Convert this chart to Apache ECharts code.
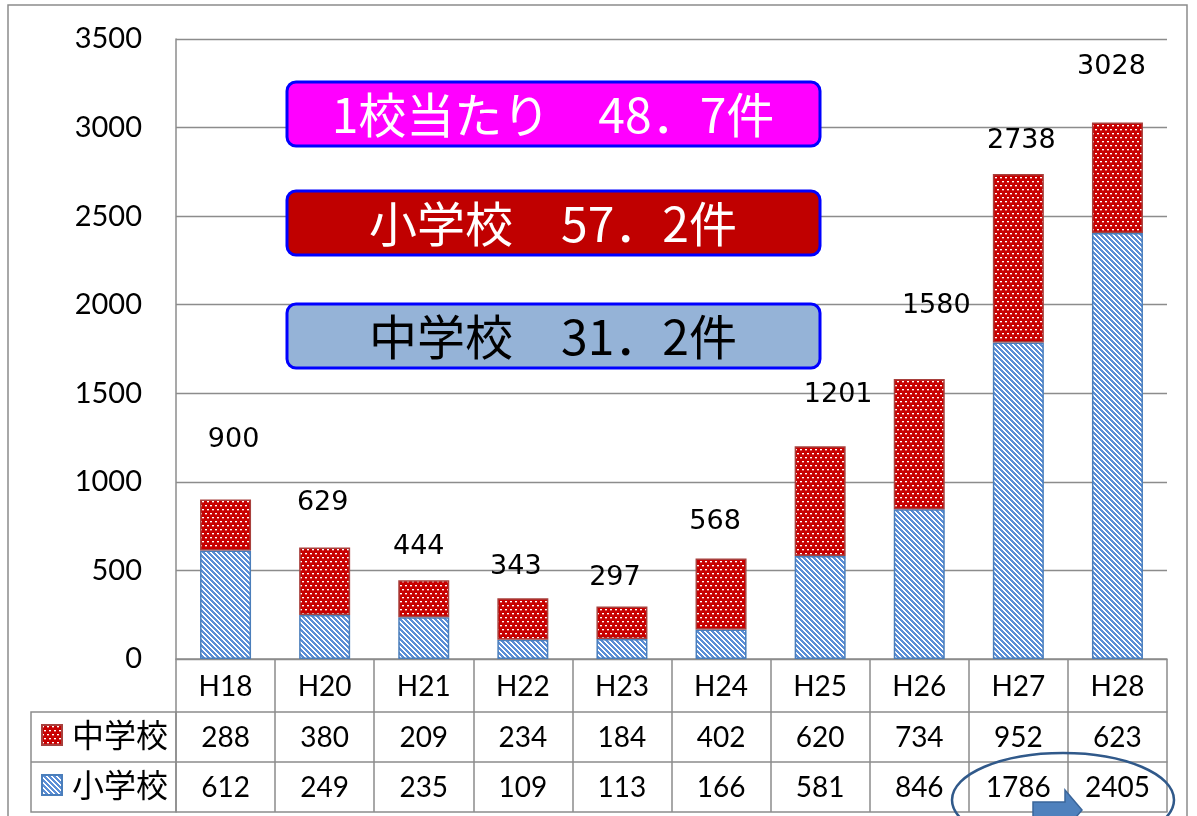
<!DOCTYPE html>
<html>
<head>
<meta charset="utf-8">
<script src="https://cdn.jsdelivr.net/npm/echarts@6/dist/echarts.min.js"></script>
<style>
html,body{margin:0;padding:0;background:#fff;}
#main{width:1197px;height:816px;}
</style>
</head>
<body>
<div id="main"></div>
<script>
// ---- data ----
const categories = ['H18','H20','H21','H22','H23','H24','H25','H26','H27','H28'];
const juniorHigh = [288, 380, 209, 234, 184, 402, 620, 734, 952, 623];   // 中学校
const elementary = [612, 249, 235, 109, 113, 166, 581, 846, 1786, 2405]; // 小学校
const totals = [900, 629, 444, 343, 297, 568, 1201, 1580, 2738, 3028];
const yTicks = [0, 500, 1000, 1500, 2000, 2500, 3000, 3500];
const noteTexts = ['1校当たり　48．7件', '小学校　57．2件', '中学校　31．2件'];

// ---- styling (label nudges, not data) ----
const totalLabelNudge = [[8,-60],[-2,-45],[-5,-33],[-7,-31],[-7,-28],[-6,-36],[18,-51],[17,-73],[3,-33],[-6,-56]];

function makeBluePattern(){
  const c = document.createElement('canvas'); c.width = 5; c.height = 5;
  const ctx = c.getContext('2d');
  ctx.fillStyle = '#ffffff'; ctx.fillRect(0,0,5,5);
  ctx.fillStyle = '#5b8ed6';
  for (let y=0;y<5;y++) for (let x=0;x<5;x++){
    const m = ((x - y) % 5 + 5) % 5;
    if (m < 3) ctx.fillRect(x,y,1,1);
  }
  return c;
}
function makeRedPattern(){
  const c = document.createElement('canvas'); c.width = 10; c.height = 8;
  const ctx = c.getContext('2d');
  ctx.fillStyle = '#c80000'; ctx.fillRect(0,0,10,8);
  ctx.fillStyle = '#ffffff';
  [[0,1],[5,1],[2,5],[7,5]].forEach(p => ctx.fillRect(p[0],p[1],2,1));
  ctx.fillStyle = 'rgba(255,255,255,0.35)';
  [[0,2],[5,2],[2,6],[7,6]].forEach(p => ctx.fillRect(p[0],p[1],2,1));
  return c;
}
const bluePat = {image: makeBluePattern(), repeat: 'repeat'};
const redPat = {image: makeRedPattern(), repeat: 'repeat'};

const gray = '#8c8c8c';
const numFont = 'Lato';
const jpFont = 'Noto Sans CJK JP';

const chart = echarts.init(document.getElementById('main'), null, {renderer: 'canvas'});

const tableAxis = (data, offset, margin) => ({
  type: 'category', gridIndex: 0, position: 'bottom', offset: offset,
  data: data.map(String),
  axisLine: {show: true, lineStyle: {color: gray, width: 1.5}},
  axisTick: {show: false},
  axisLabel: {show: data.length > 0, interval: 0, margin: margin, fontSize: 28, fontFamily: numFont, color: '#000'},
  splitLine: {show: false}
});

const boxes = [
  {y: 82, fill: '#ff00ff', color: '#ffffff'},
  {y: 191, fill: '#c00000', color: '#ffffff'},
  {y: 304, fill: '#95b3d7', color: '#000000'}
];

const graphics = [
  {type: 'rect', shape: {x: 8, y: 5, width: 1179, height: 840}, style: {fill: 'none', stroke: gray, lineWidth: 1.5}, z: 0, silent: true},
  {type: 'rect', shape: {x: 31, y: 712, width: 145, height: 100}, style: {fill: 'none', stroke: gray, lineWidth: 1.5}, z: 1},
  {type: 'line', shape: {x1: 31, y1: 762, x2: 176, y2: 762}, style: {stroke: gray, lineWidth: 1.5}, z: 1}
];
boxes.forEach((b, i) => {
  graphics.push({
    type: 'rect', shape: {x: 287, y: b.y, width: 533, height: 64, r: 9},
    style: {fill: b.fill, stroke: '#0000ff', lineWidth: 3}, z: 10
  });
  graphics.push({
    type: 'text', x: 553, y: b.y + 33,
    style: {text: noteTexts[i], fill: b.color, font: '48px "Noto Sans CJK JP"', textAlign: 'center', textVerticalAlign: 'middle'}, z: 11
  });
});
graphics.push({
  type: 'polygon',
  shape: {points: [[1033,802],[1065,802],[1065,790],[1082,810],[1065,830],[1065,818],[1033,818]]},
  style: {fill: '#4f81bd', stroke: '#3a659a', lineWidth: 1.5}, z: 20
});
graphics.push({
  type: 'ellipse', shape: {cx: 1063, cy: 800, rx: 111, ry: 47},
  style: {fill: 'none', stroke: '#30598a', lineWidth: 2.5}, z: 21
});

const option = {
  animation: false,
  backgroundColor: '#ffffff',
  grid: {left: 176, right: 30, top: 39, bottom: 157, containLabel: false},
  legend: {
    orient: 'vertical', left: 36, top: 714, itemWidth: 20, itemHeight: 20, itemGap: 18,
    data: ['中学校', '小学校'], selectedMode: false, icon: 'rect',
    textStyle: {fontSize: 32, fontFamily: jpFont, color: '#000', padding: [0,0,0,5]}
  },
  xAxis: [
    {
      type: 'category', gridIndex: 0, position: 'bottom', data: categories,
      axisLine: {show: true, lineStyle: {color: gray, width: 1.5}},
      axisTick: {show: true, length: 153, interval: 0, lineStyle: {color: gray, width: 1.5}},
      axisLabel: {interval: 0, margin: 14, fontSize: 28, fontFamily: numFont, color: '#000'}
    },
    tableAxis(juniorHigh, 53, 12),
    tableAxis(elementary, 103, 12),
    tableAxis([], 153, 0)
  ],
  yAxis: {
    type: 'value', min: yTicks[0], max: yTicks[yTicks.length - 1], interval: yTicks[1] - yTicks[0],
    axisLine: {show: true, lineStyle: {color: gray, width: 1.5}},
    axisTick: {show: false},
    splitLine: {show: true, lineStyle: {color: gray, width: 1.3}},
    axisLabel: {margin: 34, fontSize: 29, fontFamily: numFont, color: '#000', formatter: v => String(v)}
  },
  series: [
    {
      name: '小学校', type: 'bar', stack: 'total', barWidth: 51, data: elementary,
      itemStyle: {color: bluePat, borderColor: '#4a7ebb', borderWidth: 1.5}
    },
    {
      name: '中学校', type: 'bar', stack: 'total', barWidth: 51, data: juniorHigh,
      itemStyle: {color: redPat, borderColor: '#a8403d', borderWidth: 1.5}
    },
    {
      name: '合計', type: 'scatter', symbolSize: 0, z: 5,
      itemStyle: {opacity: 1, color: '#000'},
      data: totals.map((v, i) => ({
        value: v,
        label: {offset: totalLabelNudge[i]}
      })),
      label: {show: true, position: 'inside', fontSize: 27, fontFamily: 'DejaVu Sans', color: '#000', opacity: 1, formatter: p => String(p.value)}
    }
  ],
  graphic: graphics
};
chart.setOption(option);
</script>
</body>
</html>
